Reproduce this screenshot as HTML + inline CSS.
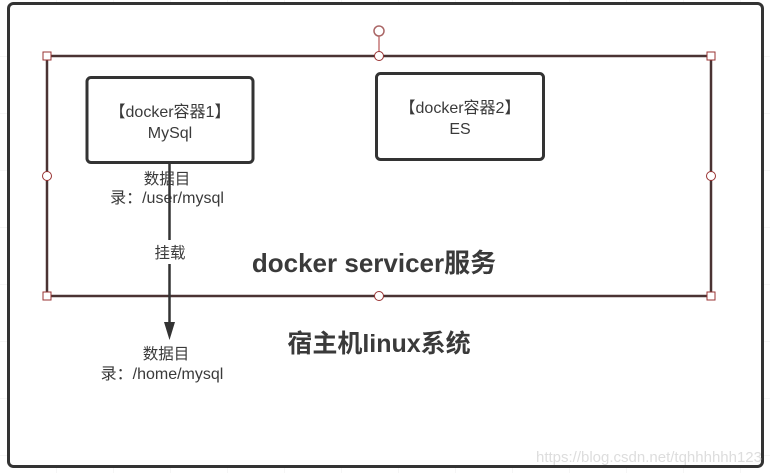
<!DOCTYPE html>
<html><head><meta charset="utf-8"><style>
html,body{margin:0;padding:0;background:#fff;}
svg{display:block;}
text{font-family:"Liberation Sans","Noto Sans CJK SC",sans-serif;fill:#3a3a3a;}
</style></head><body>
<svg width="770" height="473" viewBox="0 0 770 473">
<defs>
<pattern id="g" width="57" height="57" patternUnits="userSpaceOnUse" x="0" y="0">
<path d="M57 0V57M0 57H57" stroke="#ececec" stroke-width="1" fill="none"/>
</pattern>
</defs>
<rect width="770" height="473" fill="url(#g)"/>
<rect x="8.5" y="3.5" width="754" height="463" rx="5" fill="#fff" stroke="#333" stroke-width="3"/>
<rect x="47" y="56" width="664" height="240" fill="none" stroke="#4a3333" stroke-width="2.5"/>
<line x1="379" y1="36" x2="379" y2="56" stroke="#a33" stroke-width="1"/>
<circle cx="379" cy="31" r="5" fill="#fff" stroke="#a66" stroke-width="1.5"/>
<g fill="#fff" stroke="#933" stroke-width="1">
<rect x="43" y="52" width="8" height="8"/>
<rect x="707" y="52" width="8" height="8"/>
<rect x="43" y="292" width="8" height="8"/>
<rect x="707" y="292" width="8" height="8"/>
<circle cx="379" cy="56" r="4.5"/>
<circle cx="379" cy="296" r="4.5"/>
<circle cx="47" cy="176" r="4.5"/>
<circle cx="711" cy="176" r="4.5"/>
</g>
<rect x="87" y="77.5" width="166" height="85" rx="4" fill="#fff" stroke="#333" stroke-width="3"/>
<rect x="376.5" y="73.5" width="167" height="86" rx="4" fill="#fff" stroke="#333" stroke-width="3"/>
<text x="170" y="117" font-size="16" text-anchor="middle">【docker容器1】</text>
<text x="170" y="138" font-size="16" text-anchor="middle">MySql</text>
<text x="460" y="113" font-size="16" text-anchor="middle">【docker容器2】</text>
<text x="460" y="134" font-size="16" text-anchor="middle">ES</text>
<line x1="169.5" y1="163" x2="169.5" y2="326" stroke="#333" stroke-width="2.5"/>
<polygon points="164,322 175,322 169.5,340" fill="#333"/>
<text x="167" y="184" font-size="15.5" text-anchor="middle">数据目</text>
<text x="167" y="203" font-size="16" text-anchor="middle">录：/user/mysql</text>
<rect x="150" y="240" width="40" height="24" fill="#fff"/>
<text x="170" y="258" font-size="15.5" text-anchor="middle">挂载</text>
<text x="166" y="359" font-size="15.5" text-anchor="middle">数据目</text>
<text x="162" y="379" font-size="16" text-anchor="middle">录：/home/mysql</text>
<text x="374" y="272" font-size="26" font-weight="bold" text-anchor="middle">docker servicer服务</text>
<text x="379" y="352" font-size="25" font-weight="bold" text-anchor="middle">宿主机linux系统</text>
<text x="762" y="462" font-size="15" text-anchor="end" style="fill:#ddd">https://blog.csdn.net/tqhhhhhh123</text>
</svg>
</body></html>
